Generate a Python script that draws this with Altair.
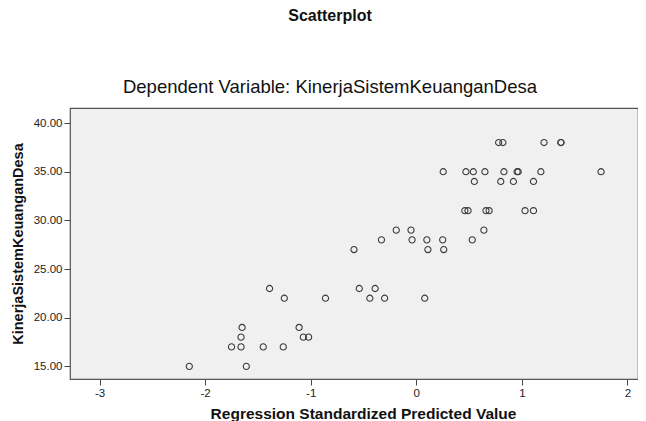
import altair as alt
import pandas as pd

# Observed values (Y) grouped by level, with standardized predicted values (X)
y15 = [-2.15, -1.61]
y17 = [-1.75, -1.66, -1.45, -1.26]
y18 = [-1.66, -1.07, -1.02]
y19 = [-1.65, -1.11]
y22 = [-1.25, -0.86, -0.44, -0.30, 0.08]
y23 = [-1.39, -0.54, -0.39]
y27 = [-0.59, 0.11, 0.26]
y28 = [-0.33, -0.04, 0.10, 0.25, 0.53]
y29 = [-0.19, -0.05, 0.64]
y31 = [0.46, 0.49, 0.66, 0.69, 1.03, 1.11]
y34 = [0.55, 0.80, 0.92, 1.11]
y35 = [0.255, 0.47, 0.54, 0.65, 0.83, 0.955, 0.965, 1.18, 1.75]
y38 = [0.78, 0.82, 1.21, 1.37, 1.37]

groups = {15: y15, 17: y17, 18: y18, 19: y19, 22: y22, 23: y23, 27: y27,
          28: y28, 29: y29, 31: y31, 34: y34, 35: y35, 38: y38}

x_ticks = [-3, -2, -1, 0, 1, 2]
y_ticks = [15, 20, 25, 30, 35, 40]

rows = []
for yv, xs in groups.items():
    for xv in xs:
        rows.append({"pred": xv, "kinerja": yv})
df = pd.DataFrame(rows)

FONT = "Liberation Sans"

chart = alt.Chart(df).mark_point(
    shape="circle", filled=False, size=38, strokeWidth=1.1, color="#3a3a3a", opacity=1
).encode(
    x=alt.X("pred:Q",
            scale=alt.Scale(domain=[-3.28, 2.10], nice=False, zero=False),
            axis=alt.Axis(values=x_ticks, title="Regression Standardized Predicted Value",
                          labelExpr="datum.value < 0 ? '-' + abs(datum.value) : '' + datum.value",
                          grid=False, domain=False, tickSize=6, tickColor="#444",
                          labelFont=FONT, labelFontSize=11.5, labelColor="#222",
                          labelPadding=2,
                          titleFont=FONT, titleFontSize=15.5, titleFontWeight="bold",
                          titleColor="#111", titlePadding=8, titleX=293)),
    y=alt.Y("kinerja:Q",
            scale=alt.Scale(domain=[13.7, 41.55], nice=False, zero=False),
            axis=alt.Axis(values=y_ticks, format=".2f", title="KinerjaSistemKeuanganDesa",
                          grid=False, domain=False, tickSize=6, tickColor="#444",
                          labelFont=FONT, labelFontSize=11.5, labelColor="#222",
                          labelPadding=2,
                          titleFont=FONT, titleFontSize=14.5, titleFontWeight="bold",
                          titleColor="#111", titlePadding=8)),
).properties(
    width=568,
    height=271,
    autosize=alt.AutoSizeParams(type="none"),
    padding={"left": 62, "top": 100, "right": 0, "bottom": 42},
    title=alt.TitleParams(
        text="Scatterplot",
        subtitle="Dependent Variable: KinerjaSistemKeuanganDesa",
        font=FONT, fontSize=16, fontWeight="bold", color="#111",
        subtitleFont=FONT, subtitleFontSize=18.5, subtitleColor="#111",
        subtitlePadding=54, offset=12, anchor="middle", dx=-24,
    ),
).configure_view(
    fill="#f0f0f0", stroke="#555", strokeWidth=1.2
)

chart.save("out.html", embed_options={"renderer": "svg", "actions": False})
